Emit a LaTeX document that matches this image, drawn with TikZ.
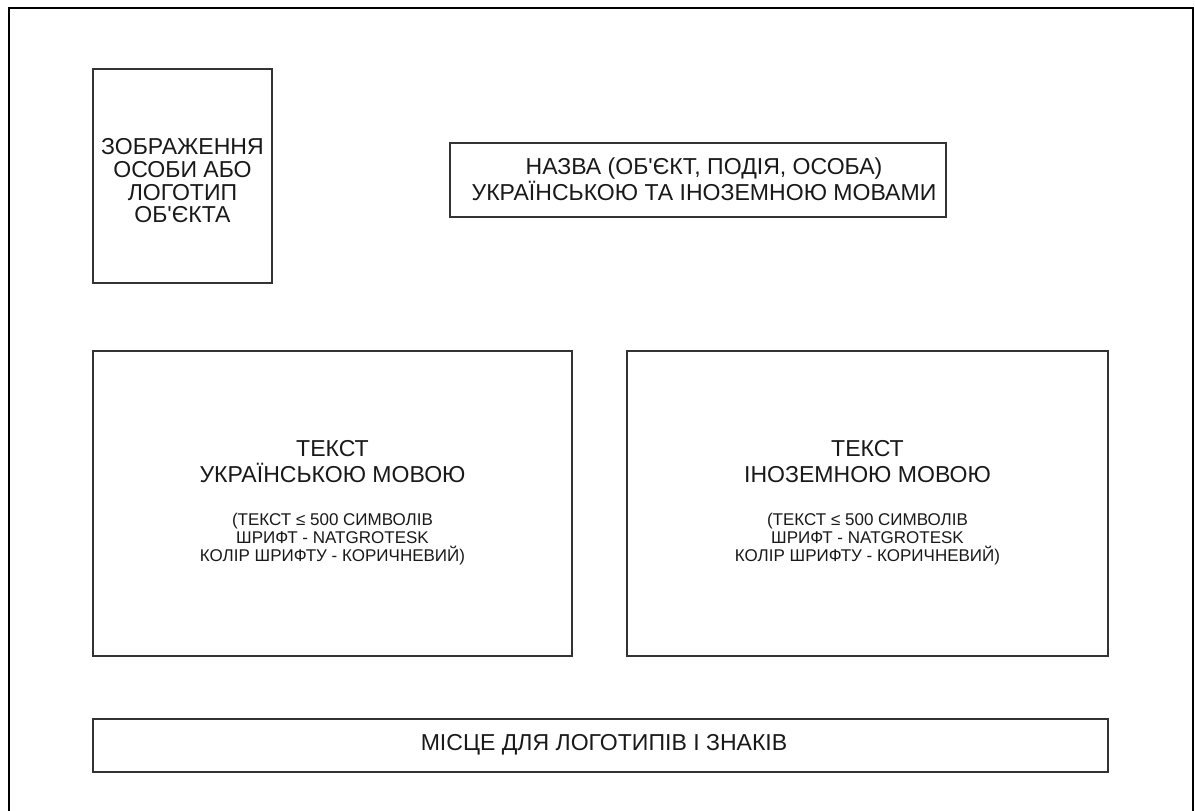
\documentclass[tikz,border=0pt]{standalone}
\usepackage{fontspec}
\setmainfont{Liberation Sans}[Ligatures=TeXOff]
\usetikzlibrary{backgrounds}

\tikzset{
	plate/.style={draw=black!80, line width=1.4pt},
	frame/.style={draw=black, line width=2.1pt},
	bigtext/.style={align=center, font=\fontsize{16.4}{16.2}\selectfont},
	smalltext/.style={align=center, font=\fontsize{12.1}{12.8}\selectfont}
}

\begin{document}
\begin{tikzpicture}[scale=1.0, text=black!90]
	\def \boxleft {2.325}
\def \boxright {27.7}
\def \leftright {14.3}
\def \rightleft {15.675}
\def \texttop {11.475}
\def \textbottom {3.85}

%page size
\clip (0,0) rectangle (29.875,20.25);

%Outer frame
\draw[frame] (0.225,-0.5) -- (0.225,20.05) -- (29.825,20.05) -- (29.825,-0.5);

%Portrait or logo
\draw[plate] (\boxleft,18.525) rectangle (6.8,13.175);
\node[bigtext] (portrait) at (4.5625,15.73) {ЗОБРАЖЕННЯ\\ОСОБИ АБО\\ЛОГОТИП\\ОБ'ЄКТА};

%Title
\draw[plate] (11.25,16.675) rectangle (23.65,14.825);
\node[bigtext, font=\fontsize{16.4}{18.5}\selectfont] (title) at (17.6,15.76) {НАЗВА (ОБ'ЄКТ, ПОДІЯ, ОСОБА)\\УКРАЇНСЬКОЮ ТА ІНОЗЕМНОЮ МОВАМИ};

%Text boxes
\draw[plate] (\boxleft,\texttop) rectangle (\leftright,\textbottom);
\draw[plate] (\rightleft,\texttop) rectangle (\boxright,\textbottom);
\node[bigtext, font=\fontsize{16.4}{18.5}\selectfont] (uahead) at (8.3125,8.72) {ТЕКСТ\\УКРАЇНСЬКОЮ МОВОЮ};
\node[smalltext] (uanote) at (8.3125,6.78) {(ТЕКСТ ≤ 500 СИМВОЛІВ\\ШРИФТ - NATGROTESK\\КОЛІР ШРИФТУ - КОРИЧНЕВИЙ)};
\node[bigtext, font=\fontsize{16.4}{18.5}\selectfont] (fohead) at (21.6875,8.72) {ТЕКСТ\\ІНОЗЕМНОЮ МОВОЮ};
\node[smalltext] (fonote) at (21.6875,6.78) {(ТЕКСТ ≤ 500 СИМВОЛІВ\\ШРИФТ - NATGROTESK\\КОЛІР ШРИФТУ - КОРИЧНЕВИЙ)};

%Logos
\draw[plate] (\boxleft,2.275) rectangle (\boxright,0.95);
\node[bigtext] (logos) at (15.1,1.625) {МІСЦЕ ДЛЯ ЛОГОТИПІВ І ЗНАКІВ};

	\end{tikzpicture}
\end{document}
